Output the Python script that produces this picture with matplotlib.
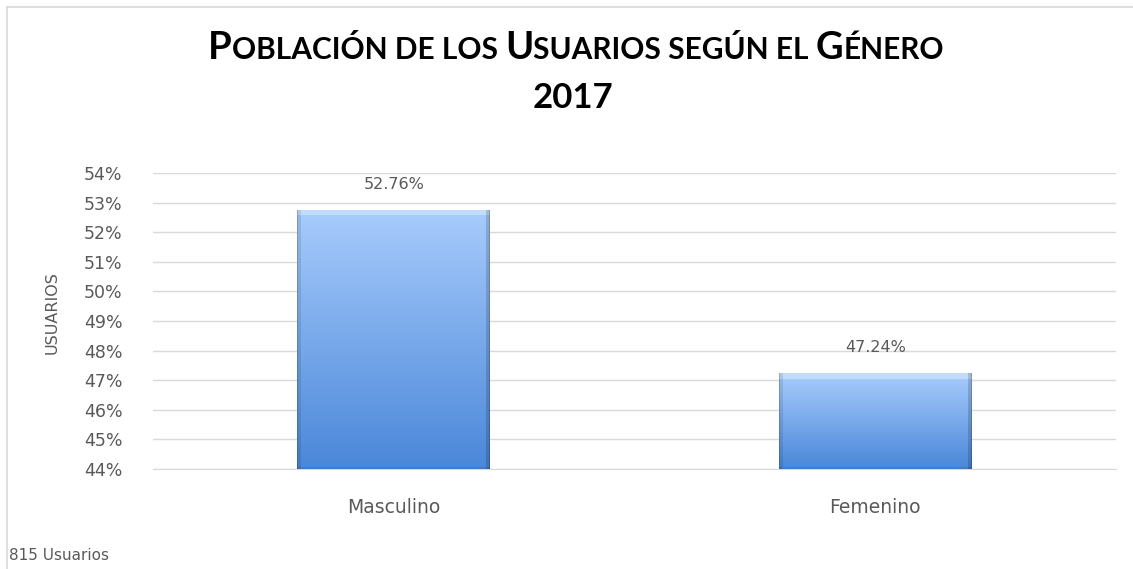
import numpy as np
import matplotlib
matplotlib.use("Agg")
import matplotlib.pyplot as plt
from matplotlib.offsetbox import TextArea, HPacker, AnchoredOffsetbox
from matplotlib.lines import Line2D
from matplotlib.ticker import PercentFormatter, MultipleLocator

# ---- data ----
categories = ["Masculino", "Femenino"]
values = [0.5276, 0.4724]
value_labels = ["52.76%", "47.24%"]
title_year = "2017"
y_label = "USUARIOS"
footnote = "815 Usuarios"
y_min, y_max = 0.44, 0.54

plt.rcParams['font.family'] = ['DejaVu Sans']
GRAY = '#595959'

W, H = 1133, 569
fig = plt.figure(figsize=(W / 100, H / 100), dpi=100)
fig.patch.set_facecolor('white')

# chart-area border (only top & left visible in the crop)
fig.add_artist(Line2D([7 / W, 1.0], [1 - 7 / H, 1 - 7 / H], transform=fig.transFigure,
                      color='#d9d9d9', lw=1.2))
fig.add_artist(Line2D([7 / W, 7 / W], [0.0, 1 - 7 / H], transform=fig.transFigure,
                      color='#d9d9d9', lw=1.2))

ax = fig.add_axes([153 / W, 1 - 469 / H, (1116 - 153) / W, (469 - 173) / H])
x = np.arange(len(categories))
heights = np.array(values) - y_min
bars = ax.bar(x, heights, bottom=y_min, width=0.40, color='#6ea2ea', zorder=2)

ax.set_xlim(-0.5, len(categories) - 0.5)
ax.set_ylim(y_min, y_max)
ax.yaxis.set_major_locator(MultipleLocator(0.01))
ax.yaxis.set_major_formatter(PercentFormatter(1.0, decimals=0))
ax.grid(axis='y', color='#d9d9d9', lw=1, zorder=0)
ax.set_axisbelow(True)
for s in ax.spines.values():
    s.set_visible(False)
ax.spines['bottom'].set_visible(True)
ax.spines['bottom'].set_color('#d9d9d9')
ax.tick_params(axis='both', length=0, colors=GRAY)
ax.tick_params(axis='y', pad=22, labelsize=12.5)
ax.tick_params(axis='x', pad=21, labelsize=13.5)
ax.set_xticks(x)
ax.set_xticklabels(categories)
ax.set_ylabel(y_label, color=GRAY, fontsize=11.5)
ax.yaxis.set_label_coords((60 - 153) / (1116 - 153), 0.53)

# gradient fill with bevel
fig.canvas.draw()
top_c = np.array([0.66, 0.80, 0.99])
bot_c = np.array([0.29, 0.53, 0.85])
for b in bars:
    x0, y0 = b.get_x(), b.get_y()
    w, h = b.get_width(), b.get_height()
    p0 = ax.transData.transform((x0, y0))
    p1 = ax.transData.transform((x0 + w, y0 + h))
    npx_w = max(int(abs(p1[0] - p0[0])), 4)
    npx_h = max(int(abs(p1[1] - p0[1])), 4)
    t = np.linspace(0, 1, npx_h)[:, None, None]
    img = top_c * (1 - t) + bot_c * t
    img = np.repeat(img, npx_w, axis=1)
    # bevels
    bw = 4
    img[:bw + 2, :, :] = img[:bw + 2, :, :] * 0.5 + 0.5 * np.array([0.86, 0.94, 1.0])
    img[:, :bw, :] *= 0.90
    img[:, -bw:, :] *= 0.84
    img[-2:, :, :] *= 0.92
    img[:, :1, :] *= 0.85
    img[:, -1:, :] *= 0.82
    im = ax.imshow(img, extent=[x0, x0 + w, y0, y0 + h], aspect='auto',
                   origin='upper', zorder=3, interpolation='bilinear')
    im.set_clip_path(b)

ax.set_xlim(-0.5, len(categories) - 0.5)
ax.set_ylim(y_min, y_max)

for b, lab in zip(bars, value_labels):
    ax.annotate(lab, (b.get_x() + b.get_width() / 2, b.get_y() + b.get_height()),
                xytext=(0, 13), textcoords='offset points', ha='center', va='bottom',
                color=GRAY, fontsize=11.5)

# small-caps title
big, small = 27.5, 21.5
parts = [("P", big), ("OBLACIÓN DE LOS ", small), ("U", big), ("SUARIOS SEGÚN EL ", small),
         ("G", big), ("ÉNERO", small)]
tas = [TextArea(s, textprops=dict(fontsize=sz, fontweight='bold', color='black',
                                  family=['Lato', 'DejaVu Sans']))
       for s, sz in parts]
pack = HPacker(children=tas, align='baseline', pad=0, sep=0)
ab = AnchoredOffsetbox(loc='center', child=pack, frameon=False,
                       bbox_to_anchor=(576 / W, 1 - 48 / H), bbox_transform=fig.transFigure,
                       borderpad=0, pad=0)
fig.add_artist(ab)
fig.text(573 / W, 1 - 98 / H, title_year, ha='center', va='center', fontsize=25,
         fontweight='bold', color='black', family=['Lato', 'DejaVu Sans'])

fig.text(9 / W, 1 - 556 / H, footnote, ha='left', va='center', fontsize=11, color=GRAY)

fig.savefig('out.png', dpi=100, facecolor='white')
